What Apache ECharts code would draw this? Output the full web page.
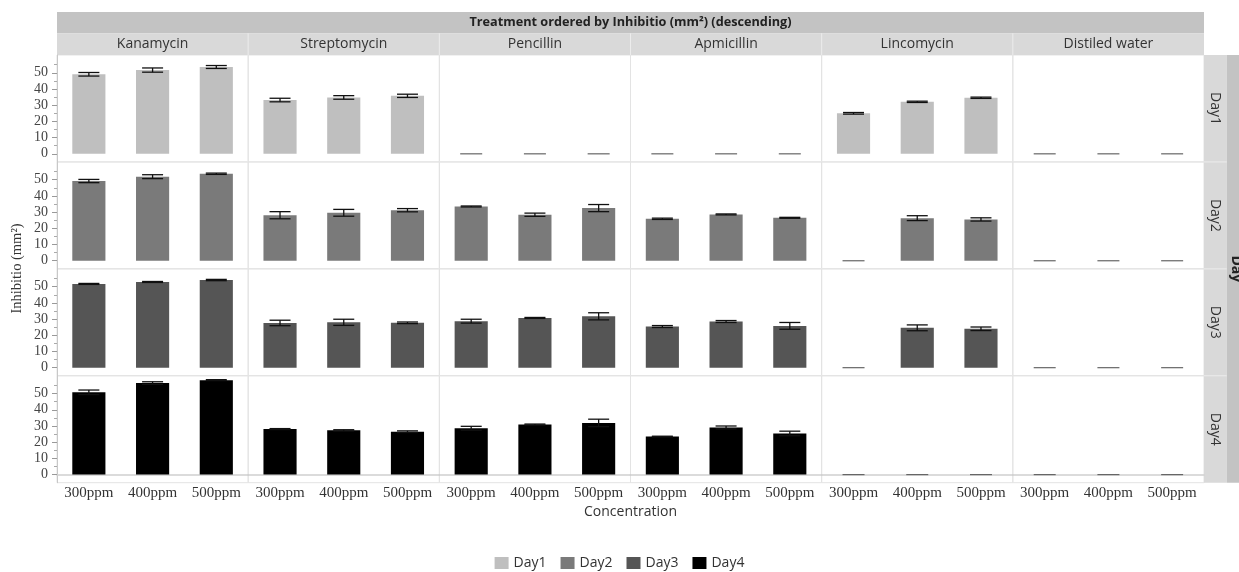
<!DOCTYPE html>
<html><head><meta charset="utf-8">
<script src="https://cdn.jsdelivr.net/npm/echarts@6/dist/echarts.min.js"></script>
<style>html,body{margin:0;padding:0;background:#fff}#c{width:1239px;height:572px}</style>
</head><body><div id="c"></div>
<script>
const treatments = ['Kanamycin','Streptomycin','Pencillin','Apmicillin','Lincomycin','Distiled water'];
const concentrations = ['300ppm','400ppm','500ppm'];
const days = ['Day1','Day2','Day3','Day4'];
const yTicks = [0,10,20,30,40,50];
const yMinorTicks = [5,15,25,35,45,55];
// values ordered treatment by treatment, 3 concentrations each
const day1Mean = [49.1,51.7,53.6, 33.2,34.8,35.8, 0,0,0, 0,0,0, 25.0,32.1,34.6, 0,0,0];
const day1Err  = [1.1,1.3,0.9, 1.1,1.1,1.0, 0,0,0, 0,0,0, 0.5,0.4,0.4, 0,0,0];
const day2Mean = [49.2,51.9,53.7, 28.1,29.6,31.2, 33.5,28.4,32.5, 25.9,28.6,26.5, 0,26.3,25.5, 0,0,0];
const day2Err  = [1.0,1.2,0.4, 2.2,2.1,1.0, 0.3,1.0,2.2, 0.4,0.3,0.3, 0,1.5,1.0, 0,0,0];
const day3Mean = [51.7,52.9,54.1, 27.6,28.0,27.7, 28.7,30.7,31.7, 25.4,28.5,25.8, 0,24.6,24.0, 0,0,0];
const day3Err  = [0.3,0.3,0.4, 1.7,1.9,0.5, 1.2,0.3,2.2, 0.6,0.6,2.1, 0,1.8,1.1, 0,0,0];
const day4Mean = [50.8,56.5,58.3, 28.1,27.3,26.5, 28.6,30.9,31.9, 23.5,29.1,25.4, 0,0,0, 0,0,0];
const day4Err  = [1.4,0.8,0.3, 0.3,0.4,0.5, 1.2,0.3,2.3, 0.2,0.9,1.4, 0,0,0, 0,0,0];
const dayColors = ['#bfbfbf','#7a7a7a','#555555','#000000'];

const means = [day1Mean, day2Mean, day3Mean, day4Mean];
const errs = [day1Err, day2Err, day3Err, day4Err];

const L = 57, R = 1204, T = 55, B = 482.7;
const colW = (R - L) / treatments.length, rowH = (B - T) / days.length;
const sans = "'Open Sans', 'Noto Sans', sans-serif";
const serif = "'Liberation Serif', 'DejaVu Serif', serif";

const grid = [], xAxis = [], yAxis = [], series = [];
days.forEach((d, r) => {
  treatments.forEach((t, c) => {
    const gi = grid.length;
    grid.push({left: L + c * colW, top: T + r * rowH, width: colW, height: rowH,
      show: true, borderColor: '#e3e3e3', borderWidth: 1, containLabel: false});
    xAxis.push({type: 'category', gridIndex: gi, data: concentrations,
      axisLine: {show: r === days.length - 1, lineStyle: {color: '#cfcfcf', width: 1.5}},
      axisTick: {show: false},
      axisLabel: {show: r === days.length - 1, interval: 0, hideOverlap: false,
        fontFamily: serif, fontSize: 15, color: '#333', margin: 3},
      splitLine: {show: false}});
    yAxis.push({type: 'value', gridIndex: gi, min: -5, max: 61, show: c === 0,
      axisLine: {show: true, lineStyle: {color: '#c8c8c8'}},
      axisTick: {show: true, customValues: yTicks, length: 5, lineStyle: {color: '#999'}},
      axisLabel: {customValues: yTicks, fontFamily: serif, fontSize: 14, color: '#444', margin: 9},
      splitLine: {show: false}});
    const m = means[r].slice(c * 3, c * 3 + 3);
    const e = errs[r].slice(c * 3, c * 3 + 3);
    series.push({type: 'bar', name: d, xAxisIndex: gi, yAxisIndex: gi, data: m, z: 2,
      barWidth: '52%', itemStyle: {color: dayColors[r]}, silent: true, animation: false});
    series.push({type: 'custom', xAxisIndex: gi, yAxisIndex: gi, silent: true, animation: false, z: 5,
      data: m.map((v, i) => [i, v, e[i]]),
      encode: {x: 0, y: 1},
      renderItem: function (params, api) {
        const x = api.value(0), v = api.value(1), er = api.value(2);
        const hw = 10.5;
        if (v === 0) {
          const p = api.coord([x, 0]);
          return {type: 'line', shape: {x1: p[0] - 11, y1: p[1], x2: p[0] + 11, y2: p[1]},
            style: {stroke: '#666', lineWidth: 1.2}};
        }
        const hi = api.coord([x, v + er]), lo = api.coord([x, v - er]);
        const st = {stroke: '#111', lineWidth: 1.3};
        return {type: 'group', children: [
          {type: 'line', shape: {x1: hi[0], y1: hi[1], x2: lo[0], y2: lo[1]}, style: st},
          {type: 'line', shape: {x1: hi[0] - hw, y1: hi[1], x2: hi[0] + hw, y2: hi[1]}, style: st},
          {type: 'line', shape: {x1: lo[0] - hw, y1: lo[1], x2: lo[0] + hw, y2: lo[1]}, style: st}
        ]};
      }});
  });
});
// overlay grids for the minor ticks of the left axis
days.forEach((d, r) => {
  const gi = grid.length;
  grid.push({left: L, top: T + r * rowH, width: colW, height: rowH, show: false});
  xAxis.push({type: 'category', gridIndex: gi, data: concentrations, show: false});
  yAxis.push({type: 'value', gridIndex: gi, min: -5, max: 61,
    axisLine: {show: false},
    axisTick: {show: true, customValues: yMinorTicks, length: 3, lineStyle: {color: '#aaa'}},
    axisLabel: {show: false}, splitLine: {show: false}});
});

const graphic = [];
graphic.push({type: 'rect', shape: {x: L, y: 12, width: R - L, height: 21.3}, style: {fill: '#c3c3c3'}});
graphic.push({type: 'text', x: (L + R) / 2, y: 22.7,
  style: {text: 'Treatment ordered by Inhibitio (mm²) (descending)', font: "bold 12.7px " + sans,
    fill: '#222', align: 'center', verticalAlign: 'middle'}});
graphic.push({type: 'rect', shape: {x: L, y: 33.3, width: R - L, height: T - 33.3}, style: {fill: '#d9d9d9'}});
treatments.forEach((t, c) => {
  if (c > 0) graphic.push({type: 'line', shape: {x1: L + c * colW, y1: 33.3, x2: L + c * colW, y2: T},
    style: {stroke: '#ececec', lineWidth: 1}});
  graphic.push({type: 'text', x: L + (c + 0.5) * colW, y: 44.2,
    style: {text: t, font: "14px " + sans, fill: '#333', align: 'center', verticalAlign: 'middle'}});
});
graphic.push({type: 'rect', shape: {x: R, y: T, width: 22.7, height: B - T}, style: {fill: '#d9d9d9'}});
graphic.push({type: 'rect', shape: {x: R + 22.7, y: T, width: 20, height: B - T}, style: {fill: '#c3c3c3'}});
days.forEach((d, r) => {
  if (r > 0) graphic.push({type: 'line', shape: {x1: R, y1: T + r * rowH, x2: R + 22.7, y2: T + r * rowH},
    style: {stroke: '#ececec', lineWidth: 1}});
  graphic.push({type: 'text', x: R + 11.3, y: T + (r + 0.5) * rowH, rotation: -Math.PI / 2,
    style: {text: d, font: "14px " + sans, fill: '#333', align: 'center', verticalAlign: 'middle'}});
});
graphic.push({type: 'text', x: 1236, y: (T + B) / 2, rotation: -Math.PI / 2,
  style: {text: 'Day', font: "bold 14px " + sans, fill: '#222', align: 'center', verticalAlign: 'middle'}});
graphic.push({type: 'text', x: 17, y: 268.5, rotation: Math.PI / 2,
  style: {text: 'Inhibitio (mm²)', font: "14.5px " + serif, fill: '#333', align: 'center', verticalAlign: 'middle'}});
graphic.push({type: 'text', x: (L + R) / 2, y: 511.7,
  style: {text: 'Concentration', font: "14px " + sans, fill: '#333', align: 'center', verticalAlign: 'middle'}});

const chart = echarts.init(document.getElementById('c'), null, {renderer: 'canvas'});
chart.setOption({
  animation: false,
  grid, xAxis, yAxis, series, graphic,
  legend: {data: days, top: 551, left: 'center', icon: 'rect', itemWidth: 14, itemHeight: 12, itemGap: 14,
    textStyle: {fontFamily: sans, fontSize: 14, color: '#333'}, selectedMode: false}
});
</script></body></html>
